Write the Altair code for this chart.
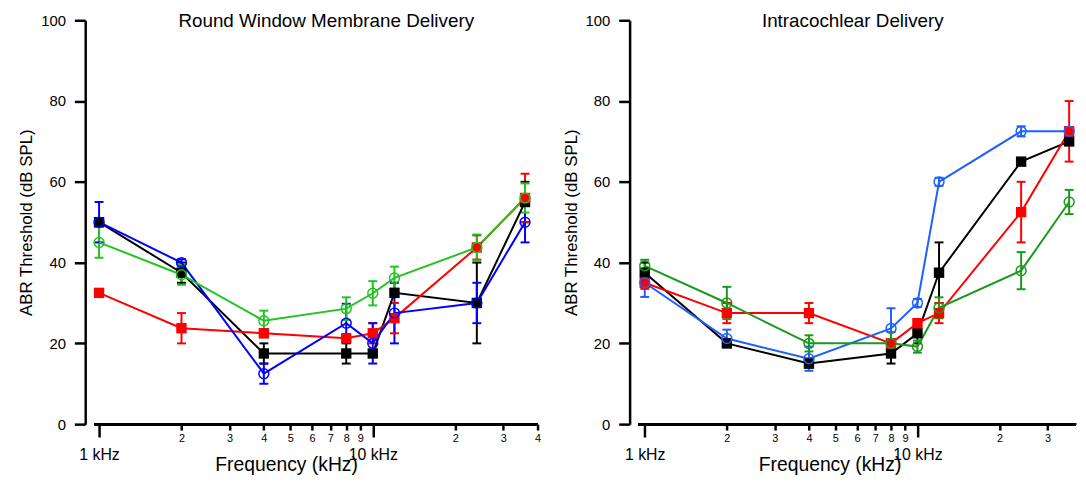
import altair as alt
import pandas as pd

freqs = [1, 2, 4, 8, 10, 12, 24, 36]
series = ["Pre Implantation", "4 Week Post Implant", "6 Week Post Implant", "8 Week Post Implant"]
draw_order = ["6 Week Post Implant", "8 Week Post Implant", "4 Week Post Implant", "Pre Implantation"]

# Round Window Membrane Delivery (mean, error)
rwm_pre = [45, 37, 25.6, 28.6, 32.4, 36.2, 43.75, 56]
rwm_pre_err = [3.8, 2.5, 2.5, 2.8, 3, 2.8, 3.2, 3.6]
rwm_4wk = [50, 40, 12.5, 25, 20, 27.5, 30, 50]
rwm_4wk_err = [5, 0.8, 2.5, 4.8, 5, 7.5, 5, 5]
rwm_6wk = [50, 37.5, 17.5, 17.5, 17.5, 32.5, 30, 55]
rwm_6wk_err = [0.8, 2.5, 2.5, 2.5, 0.8, 1, 10, 5]
rwm_8wk = [32.5, 23.75, 22.5, 21.25, 22.5, 26.25, 43.75, 56]
rwm_8wk_err = [0.8, 3.75, 1, 1, 2.5, 3.75, 3, 6]

# Intracochlear Delivery (mean, error)
icd_pre = [39.2, 30, 20, 20, 19.2, 28.8, 38, 55]
icd_pre_err = [1.5, 4, 2, 2.8, 1.5, 2.6, 4.6, 3]
icd_4wk = [35, 21.2, 16.2, 23.7, 30, 60, 72.5, 72.5]
icd_4wk_err = [3.5, 2.2, 3, 5, 1, 1, 1.25, 1]
icd_6wk = [37.5, 20, 15, 17.5, 22.5, 37.5, 65, 70]
icd_6wk_err = [2.5, 0.8, 1, 2.5, 2.5, 7.5, 0.8, 0.8]
icd_8wk = [35, 27.5, 27.5, 20, 25, 27.5, 52.5, 72.5]
icd_8wk_err = [1.5, 2.5, 2.5, 1, 0.8, 2.5, 7.5, 7.5]

left_colors = ["#22c322", "#0000ff", "#000000", "#ff0000"]
right_colors = ["#1a9a1a", "#1f5fff", "#000000", "#ff0000"]
circle_series = ["Pre Implantation", "4 Week Post Implant"]
square_series = ["6 Week Post Implant", "8 Week Post Implant"]

# legend symbol: a short line with a marker on it
LEGEND_PATH = "M-2.25,0H2.25M0.75,0A0.75,0.75,0,1,1,-0.75,0A0.75,0.75,0,1,1,0.75,0"


def build_frame(vals, errs):
    rows = []
    lookup = dict(zip(series, zip(vals, errs)))
    for s in draw_order:
        v, e = lookup[s]
        for f, y, err in zip(freqs, v, e):
            rows.append({"freq": f, "series": s, "y": y, "lo": y - err, "hi": y + err})
    return pd.DataFrame(rows)


rwm_df = build_frame([rwm_pre, rwm_4wk, rwm_6wk, rwm_8wk],
                     [rwm_pre_err, rwm_4wk_err, rwm_6wk_err, rwm_8wk_err])
icd_df = build_frame([icd_pre, icd_4wk, icd_6wk, icd_8wk],
                     [icd_pre_err, icd_4wk_err, icd_6wk_err, icd_8wk_err])

MAJOR = "datum.value == 1 || datum.value == 10"


def x_axis(values, title_x):
    return alt.Axis(
        values=values,
        labelExpr="datum.value == 1 ? '1 kHz' : datum.value == 10 ? '10 kHz' : "
                  "datum.value >= 20 ? format(datum.value / 10, 'd') : format(datum.value, 'd')",
        labelFontSize={"condition": {"test": MAJOR, "value": 16}, "value": 11},
        tickSize={"condition": {"test": MAJOR, "value": 13}, "value": 6},
        labelPadding={"condition": {"test": MAJOR, "value": 10}, "value": 3},
        domain=False, grid=False, tickWidth=2.5, tickColor="black",
        labelColor="black", labelFlush=False, labelOverlap=False,
        title="Frequency (kHz)", titleFontSize=19.5, titleFontWeight="normal",
        titleColor="black", titleX=title_x, titleY=47, titleBaseline="alphabetic",
    )


def y_axis():
    return alt.Axis(
        values=[0, 20, 40, 60, 80, 100], tickSize=11, tickWidth=2.5, tickColor="black",
        domainWidth=2.5, domainColor="black", labelFontSize=15, labelPadding=9,
        labelColor="black", grid=False, title="ABR Threshold (dB SPL)",
        titleFontSize=17, titleFontWeight="normal", titleColor="black", titlePadding=5,
    )


def panel(df, title, colors, xdomain, xvalues, axis_start, title_x, title_dx, width, with_legend):
    xs = alt.Scale(type="log", domain=xdomain, nice=False)
    ys = alt.Scale(domain=[0, 100], nice=False)
    cs = alt.Scale(domain=series, range=colors)
    base = alt.Chart(df)
    x = alt.X("freq:Q", scale=xs, axis=x_axis(xvalues, title_x))
    y = alt.Y("y:Q", scale=ys, axis=y_axis())
    y_lo = alt.Y("lo:Q", scale=ys, axis=y_axis())
    y_hi = alt.Y("hi:Q", scale=ys, axis=y_axis())
    col = alt.Color("series:N", scale=cs, legend=None)

    axis_line = base.mark_rule(strokeWidth=2.5, color="black").encode(
        x=alt.X(datum=axis_start, scale=xs, axis=x_axis(xvalues, title_x)),
        x2=alt.X2(datum=xdomain[1]),
        y=alt.Y(datum=0, scale=ys, axis=y_axis()),
    )
    err_rule = base.mark_rule(strokeWidth=2).encode(x=x, y=y_lo, y2="hi:Q", color=col)
    cap_lo = base.mark_tick(orient="horizontal", size=9, thickness=2, opacity=1).encode(
        x=x, y=y_lo, color=col)
    cap_hi = base.mark_tick(orient="horizontal", size=9, thickness=2, opacity=1).encode(
        x=x, y=y_hi, color=col)
    line_col = col
    if with_legend:
        line_col = alt.Color("series:N", scale=cs, legend=alt.Legend(
            title=None, orient="top-left", offset=33, symbolType=LEGEND_PATH, symbolSize=190,
            symbolStrokeWidth=1.5, labelFontSize=16, labelOffset=20, rowPadding=1,
            padding=0, symbolOpacity=1, labelColor="black"))
    lines = base.mark_line(strokeWidth=2).encode(x=x, y=y, color=line_col)
    squares = base.mark_square(size=110, filled=True, opacity=1).encode(
        x=x, y=y, color=col).transform_filter(
        alt.FieldOneOfPredicate(field="series", oneOf=square_series))
    circles = base.mark_point(shape="circle", size=100, filled=False, strokeWidth=1.5, opacity=1).encode(
        x=x, y=y, color=col).transform_filter(
        alt.FieldOneOfPredicate(field="series", oneOf=circle_series))

    layers = [axis_line, err_rule, cap_lo, cap_hi, lines, squares, circles]

    return alt.layer(*layers).properties(
        width=width, height=408,
        title=alt.TitleParams(title, fontSize=19, fontWeight="normal", color="black",
                              anchor="middle", dx=title_dx, baseline="alphabetic", offset=-33),
    )


left = panel(rwm_df, "Round Window Membrane Delivery", left_colors, [0.89, 40],
             [1, 2, 3, 4, 5, 6, 7, 8, 9, 10, 20, 30, 40], 0.965, 203, 15, 457, False)
right = panel(icd_df, "Intracochlear Delivery", right_colors, [0.88, 38.15],
              [1, 2, 3, 4, 5, 6, 7, 8, 9, 10, 20, 30], 0.946, 202, 0, 451, True)

chart = alt.hconcat(left, right, spacing=20).resolve_scale(
    color="independent", x="independent", y="independent",
).properties(
    padding={"left": 9, "top": 2, "right": 0, "bottom": 0}
).configure(font="Liberation Sans").configure_view(stroke=None)

chart.save("out.html", embed_options={"renderer": "svg", "actions": False})
